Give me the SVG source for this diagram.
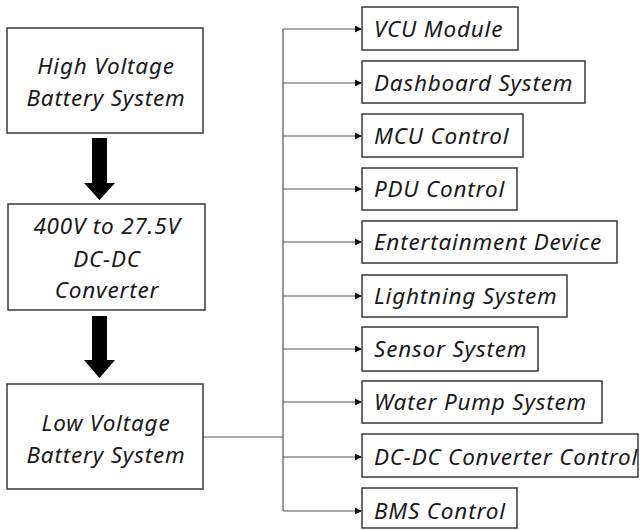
<svg xmlns="http://www.w3.org/2000/svg" width="641" height="530" viewBox="0 0 641 530">
<defs>
<style>
.box{fill:#fff;stroke:#3a3a3a;stroke-width:1.5}
.t{font-family:"Noto Sans","Open Sans",sans-serif;font-style:italic;font-size:22.5px;letter-spacing:0.8px;fill:#1a1a1a}
.c{text-anchor:middle}
.ln{fill:none;stroke:#555;stroke-width:1.2}
.big{fill:#000}
</style>
<marker id="ah" markerWidth="8" markerHeight="8" refX="7" refY="4" orient="auto" markerUnits="userSpaceOnUse">
<path d="M0,0.5 L7,4 L0,7.5 Z" fill="#111"/>
</marker>
</defs>
<rect width="641" height="530" fill="#fff"/>

<g id="connectors">
<path class="big" d="M92,138 H107 V183 H115 L99.5,200 L84,183 H92 Z"/>
<path class="big" d="M92,316 H107 V360 H115 L99.5,378 L84,360 H92 Z"/>
<path class="ln" d="M203,437 H283"/>
<path class="ln" d="M283,29 V511"/>
<path class="ln" marker-end="url(#ah)" d="M283,29 H362"/>
<path class="ln" marker-end="url(#ah)" d="M283,83 H362"/>
<path class="ln" marker-end="url(#ah)" d="M283,136 H362"/>
<path class="ln" marker-end="url(#ah)" d="M283,189 H362"/>
<path class="ln" marker-end="url(#ah)" d="M283,242 H362"/>
<path class="ln" marker-end="url(#ah)" d="M283,296 H362"/>
<path class="ln" marker-end="url(#ah)" d="M283,349 H362"/>
<path class="ln" marker-end="url(#ah)" d="M283,402 H362"/>
<path class="ln" marker-end="url(#ah)" d="M283,457 H362"/>
<path class="ln" marker-end="url(#ah)" d="M283,511 H362"/>
</g>

<g id="hv">
<rect class="box" x="7" y="28" width="196" height="105"/>
<text class="t c" x="106" y="74">High Voltage</text>
<text class="t c" x="106" y="106">Battery System</text>
</g>
<g id="dcdc">
<rect class="box" x="8" y="204" width="197" height="106"/>
<text class="t c" x="107" y="234">400V to 27.5V</text>
<text class="t c" x="107" y="267">DC-DC</text>
<text class="t c" x="107" y="298">Converter</text>
</g>
<g id="lv">
<rect class="box" x="7" y="384" width="196" height="105"/>
<text class="t c" x="106" y="431">Low Voltage</text>
<text class="t c" x="106" y="463">Battery System</text>
</g>

<g id="vcu"><rect class="box" x="362" y="7" width="156" height="43"/><text class="t" x="374" y="37">VCU Module</text></g>
<g id="dashboard"><rect class="box" x="362" y="61" width="223" height="42"/><text class="t" x="374" y="91">Dashboard System</text></g>
<g id="mcu"><rect class="box" x="362" y="114" width="161" height="43"/><text class="t" x="374" y="144">MCU Control</text></g>
<g id="pdu"><rect class="box" x="362" y="168" width="155" height="42"/><text class="t" x="374" y="197">PDU Control</text></g>
<g id="entertainment"><rect class="box" x="362" y="221" width="255" height="42"/><text class="t" x="374" y="250">Entertainment Device</text></g>
<g id="lightning"><rect class="box" x="362" y="275" width="205" height="42"/><text class="t" x="374" y="304">Lightning System</text></g>
<g id="sensor"><rect class="box" x="362" y="327" width="176" height="44"/><text class="t" x="374" y="357">Sensor System</text></g>
<g id="waterpump"><rect class="box" x="362" y="381" width="240" height="42"/><text class="t" x="374" y="410">Water Pump System</text></g>
<g id="dcdcctrl"><rect class="box" x="362" y="434" width="276" height="43"/><text class="t" x="374" y="465">DC-DC Converter Control</text></g>
<g id="bms"><rect class="box" x="362" y="488" width="155" height="40"/><text class="t" x="374" y="519">BMS Control</text></g>
</svg>
